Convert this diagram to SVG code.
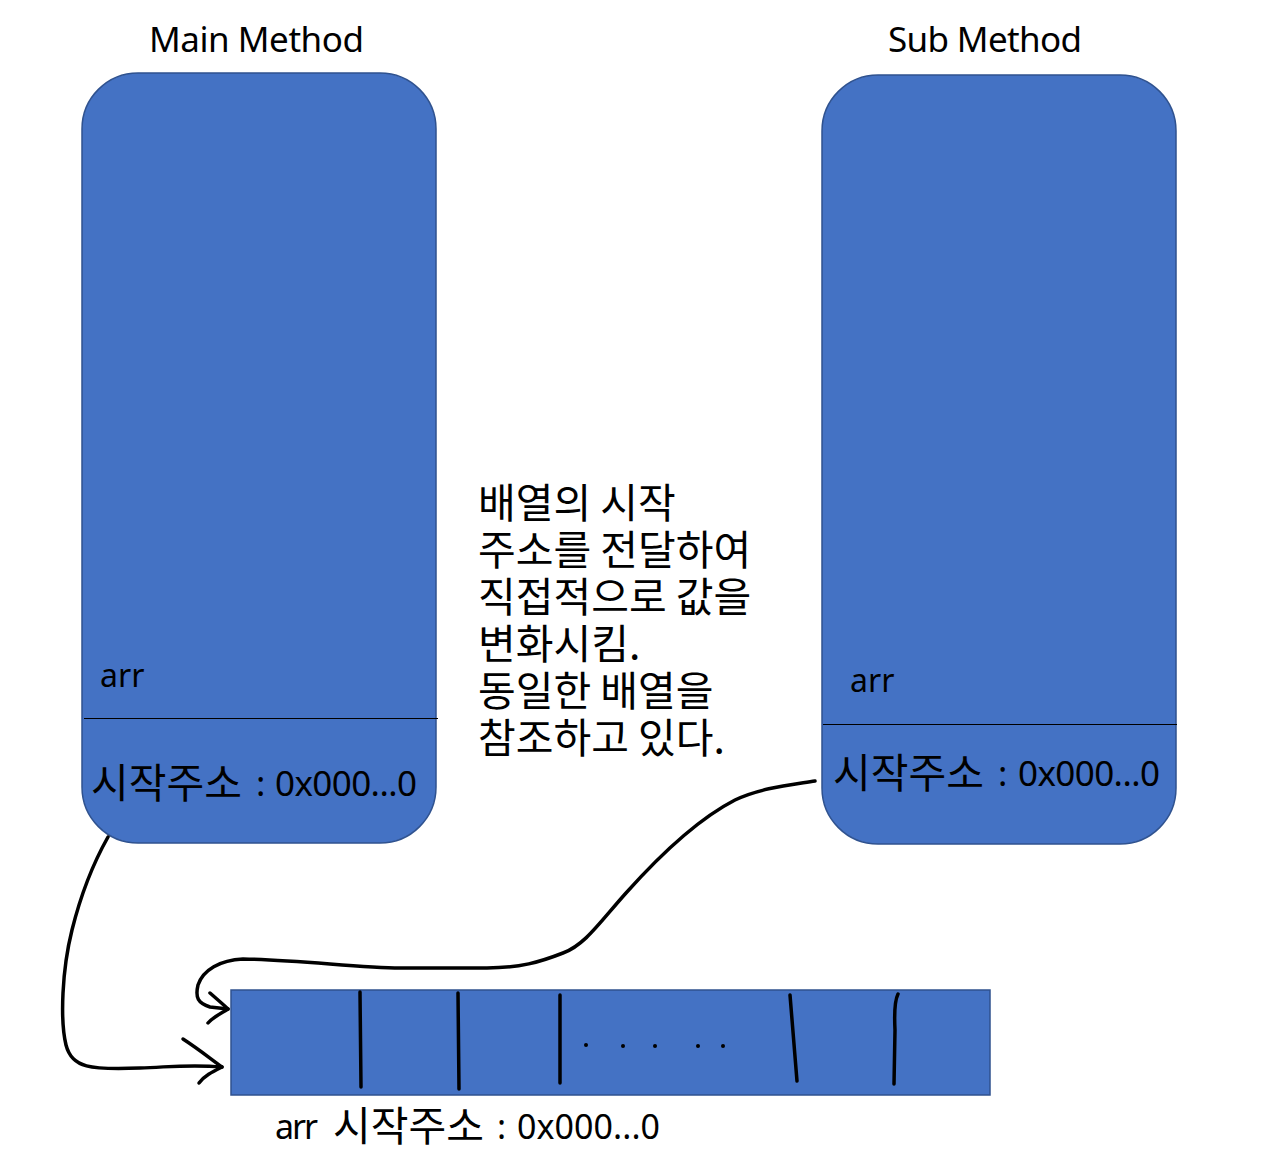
<svg xmlns="http://www.w3.org/2000/svg" width="1268" height="1154" viewBox="0 0 1268 1154">
<style>
.box{fill:#4472C4;stroke:#2F528F;stroke-width:1.5}
.div{stroke:#000;stroke-width:1.2}
.lat{font-family:"Noto Sans","Noto Sans CJK KR",sans-serif;fill:#000}
.k{font-family:"Noto Sans CJK KR","Noto Sans",sans-serif;fill:#000;font-size:41px}
.kr{font-family:"Noto Sans CJK KR","Noto Sans",sans-serif;fill:#000;font-size:41px}
.hand{fill:none;stroke:#000;stroke-width:3.5;stroke-linecap:round;stroke-linejoin:round}
</style>
<rect width="1268" height="1154" fill="#fff"/>
<g id="main-method">
<text class="lat" x="149" y="52" font-size="35" textLength="215">Main Method</text>
<rect class="box" x="82" y="73" width="354" height="770" rx="56" ry="56"/>
<line class="div" x1="84" y1="718.5" x2="438" y2="718.5"/>
<text class="lat" x="100" y="687" font-size="32">arr</text>
<text class="k" x="91" y="798">시작주소</text>
<text class="lat" x="256" y="796" font-size="35">:</text>
<text class="lat" x="275" y="796" font-size="35" textLength="142">0x000...0</text>
</g>
<g id="sub-method">
<text class="lat" x="888" y="52" font-size="35" textLength="194">Sub Method</text>
<rect class="box" x="822" y="75" width="354" height="769" rx="56" ry="56"/>
<line class="div" x1="823" y1="724.5" x2="1177" y2="724.5"/>
<text class="lat" x="850" y="692" font-size="32">arr</text>
<text class="k" x="833" y="788">시작주소</text>
<text class="lat" x="998" y="786" font-size="35">:</text>
<text class="lat" x="1018" y="786" font-size="35" textLength="142">0x000...0</text>
</g>
<g id="note">
<text class="kr"><tspan x="478" y="518">배열의 시작</tspan><tspan x="478" y="565">주소를 전달하여</tspan><tspan x="478" y="612">직접적으로 값을</tspan><tspan x="478" y="659">변화시킴.</tspan><tspan x="478" y="706">동일한 배열을</tspan><tspan x="478" y="753">참조하고 있다.</tspan></text>
</g>
<g id="array">
<rect class="box" x="231" y="990" width="759" height="105"/>
<path class="hand" d="M360,992 L361,1087"/>
<path class="hand" d="M458,993 L459,1089"/>
<path class="hand" d="M560,995 L560,1083"/>
<path class="hand" d="M790,995 L797,1081"/>
<path class="hand" d="M898,994 C895,1000 894,1010 895,1030 L894,1084"/>
<g fill="#000">
<circle cx="586" cy="1045" r="2"/>
<circle cx="623" cy="1046" r="2"/>
<circle cx="655" cy="1046" r="2"/>
<circle cx="698" cy="1046" r="2"/>
<circle cx="723" cy="1046" r="2"/>
</g>
<text class="lat" x="275" y="1139" font-size="34" textLength="43">arr</text>
<text class="k" x="333" y="1141" font-size="40">시작주소</text>
<text class="lat" x="497" y="1139" font-size="34">:</text>
<text class="lat" x="517" y="1139" font-size="34" textLength="143">0x000...0</text>
</g>
<g id="connectors">
<path class="hand" d="M108,837 C95,860 82,890 72,930 C62,970 60,1020 66,1045 C72,1068 90,1070 140,1068 C170,1067 190,1064 222,1067"/>
<path class="hand" d="M183,1039 C200,1050 212,1060 222,1067 C212,1072 204,1076 199,1083"/>
<path class="hand" d="M815,781 C790,785 760,788 735,800 C700,818 660,855 626,893 C600,922 585,945 563,953 C540,962 520,968 487,968 L400,968 C360,968 300,960 243,959 C220,960 203,970 198,985 C195,998 198,1003 210,1007 L228,1009"/>
<path class="hand" d="M210,993 C218,1000 224,1005 228,1009 C220,1014 212,1018 208,1023"/>
</g>
</svg>
